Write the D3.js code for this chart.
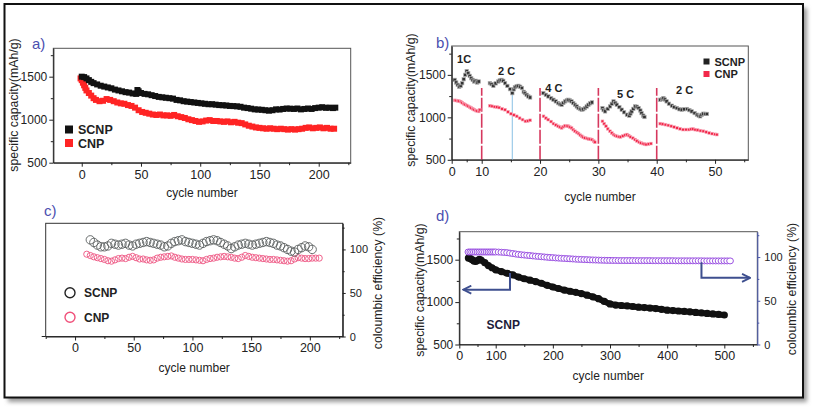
<!DOCTYPE html>
<html><head><meta charset="utf-8">
<script src="https://cdn.jsdelivr.net/npm/d3@7"></script>
<style>
body{margin:0;background:#fff}
svg{display:block}
text{font-family:"Liberation Sans",Arial,sans-serif;fill:#222}
.narrow text{font-family:"Liberation Sans Narrow","Liberation Sans",Arial,sans-serif}
</style>
</head><body>
<svg id="c" width="815" height="408"></svg>
<script>
// ---------------- DATA ----------------
// Panel a: specific capacity vs cycle (1C)
const aSCNP = [[0,1500],[2,1495],[4,1480],[6,1460],[8,1440],[10,1425],[13,1410],[16,1395],[19,1385],[22,1375],[25,1365],[28,1350],[31,1340],[34,1330],[37,1320],[40,1315],[43,1305],[46,1300],[47,1345],[48,1330],[50,1310],[53,1300],[56,1295],[59,1285],[62,1275],[65,1265],[68,1260],[71,1255],[74,1250],[77,1245],[80,1230],[83,1225],[86,1215],[89,1210],[92,1205],[95,1200],[98,1195],[101,1190],[104,1185],[107,1180],[110,1180],[113,1175],[116,1170],[119,1168],[122,1165],[125,1160],[128,1158],[131,1155],[134,1150],[137,1140],[140,1135],[143,1128],[146,1120],[149,1118],[152,1115],[155,1110],[158,1105],[161,1110],[164,1120],[167,1118],[170,1125],[173,1130],[176,1128],[179,1125],[182,1130],[185,1120],[188,1125],[191,1130],[194,1125],[197,1135],[200,1140],[203,1145],[206,1138],[209,1140],[212,1135],[214,1140]];
const aCNP = [[-1,1480],[0,1460],[1,1430],[2,1400],[3,1370],[4,1340],[6,1310],[8,1280],[10,1250],[12,1230],[15,1215],[18,1220],[21,1240],[24,1230],[27,1215],[30,1200],[33,1190],[36,1185],[39,1170],[42,1160],[45,1140],[48,1110],[51,1090],[54,1080],[57,1070],[60,1060],[63,1055],[66,1060],[69,1050],[72,1050],[75,1045],[78,1055],[81,1040],[84,1030],[87,1020],[90,1005],[93,995],[96,985],[99,975],[102,980],[105,990],[108,995],[111,985],[114,985],[117,980],[120,975],[123,980],[126,970],[129,975],[132,965],[135,960],[138,945],[141,930],[144,920],[147,910],[150,905],[153,900],[156,895],[159,900],[162,895],[165,890],[168,895],[171,890],[174,885],[177,890],[180,885],[183,890],[186,895],[189,905],[192,910],[195,900],[198,905],[201,910],[204,900],[207,905],[210,895],[213,895]];
const aXTicks = [0,50,100,150,200];
const aYTicks = [500,1000,1500];

// Panel b: rate capability
const bSCNP = [[1,1441],[1.5,1410],[2,1383],[2.5,1360],[3,1371],[3.5,1402],[4,1449],[4.5,1500],[5,1545],[5.5,1520],[6,1488],[6.5,1461],[7,1441],[7.5,1422],[8,1430],[8.5,1410],[9,1422],
[11.4,1402],[11.7,1390],[12,1371],[12.4,1400],[12.85,1422],[13.1,1435],[13.4,1441],[13.7,1430],[14,1402],[14.4,1370],[14.85,1332],[15.25,1285],[15.5,1330],[15.7,1355],[16,1365],[16.3,1371],[16.6,1360],[16.9,1345],[17.2,1300],[17.4,1285],[17.7,1265],[18,1246],[18.3,1234],
[20.57,1285],[21,1265],[21.43,1246],[21.9,1225],[22.3,1207],[22.7,1188],[23.1,1168],[23.4,1155],[23.7,1148],[24,1170],[24.3,1188],[24.6,1200],[24.85,1207],[25.1,1200],[25.4,1188],[25.7,1168],[26,1148],[26.3,1128],[26.6,1109],[26.9,1098],[27.15,1090],[27.4,1095],[27.7,1109],[28,1128],[28.3,1148],[28.6,1165],[28.9,1176],
[30.7,1109],[30.9,1085],[31.15,1070],[31.6,1100],[32,1129],[32.3,1160],[32.6,1188],[32.9,1170],[33.15,1148],[33.6,1120],[34,1090],[34.4,1060],[34.9,1031],[35.3,1020],[35.5,1045],[35.7,1070],[36,1100],[36.3,1129],[36.6,1125],[36.9,1109],[37.2,1080],[37.4,1050],[37.7,1020],[37.9,1004],
[40.6,1207],[40.9,1215],[41.15,1227],[41.4,1210],[41.7,1188],[42.1,1160],[42.6,1137],[43,1120],[43.45,1109],[43.9,1095],[44.3,1090],[44.7,1095],[45.2,1098],[45.6,1085],[46,1070],[46.5,1050],[46.9,1031],[47.2,1020],[47.45,1012],[47.7,1030],[48,1043],[48.3,1040],[48.6,1040]];
const bCNP = [[1,1200],[1.5,1198],[2,1195],[2.5,1190],[3,1185],[3.5,1172],[4,1160],[4.5,1150],[5,1140],[5.5,1130],[6,1120],[6.5,1110],[7,1100],[7.5,1090],[8,1080],[8.5,1075],[9,1070],[9.3,1090],
[11.4,1137],[11.8,1130],[12.2,1125],[12.6,1121],[13,1115],[13.5,1100],[14,1090],[14.5,1065],[15,1043],[15.5,1028],[16,1012],[16.5,990],[17,973],[17.5,953],[17.9,958],[18.3,965],
[20.6,1012],[21,990],[21.4,973],[21.9,950],[22.3,926],[22.7,910],[23.1,895],[23.4,885],[23.7,875],[24,890],[24.3,902],[24.6,898],[24.85,895],[25.1,885],[25.4,875],[25.7,855],[26,836],[26.3,822],[26.6,809],[26.9,790],[27.15,777],[27.4,765],[27.7,758],[28,752],[28.3,746],[28.6,742],[28.9,738],[29.2,720],[29.4,707],
[30.7,953],[31,925],[31.3,895],[31.6,865],[32,836],[32.3,815],[32.6,797],[32.9,785],[33.2,777],[33.5,772],[33.8,770],[34.2,780],[34.6,790],[34.9,797],[35.2,785],[35.5,770],[35.9,755],[36.3,738],[36.6,722],[37,707],[37.3,698],[37.6,691],[37.9,685],[38.2,680],[38.6,685],[39,691],
[40.6,926],[41,920],[41.5,914],[42,905],[42.5,895],[43,885],[43.5,875],[44,865],[44.5,856],[45,856],[45.5,856],[45.9,860],[46.2,863],[46.6,855],[47,850],[47.5,843],[48,836],[48.5,826],[49,816],[49.5,808],[50,800],[50.3,797]];
const bRateLabels = [["1C",1.8,1640],["2 C",12.8,1498],["4 C",20.9,1298],["5 C",33.2,1228],["2 C",43.3,1275]];
const bRateBounds = [10,20,30,40];
const bRateTop = 1345;
const bMarkCycle = 15.25, bMarkTop = 1330;
const bXTicks = [0,10,20,30,40,50];
const bYTicks = [500,1000,1500];

// Panel c: coulombic efficiency
const cSCNP = [[13,111],[16,108],[19,105],[22,103],[25,103],[28,104],[31,107],[34,106],[37,105],[40,106],[43,107],[46,105],[49,104],[52,106],[55,107],[58,108],[61,109],[64,108],[67,107],[70,106],[73,105],[76,103],[79,104],[82,107],[85,109],[88,110],[91,111],[94,109],[97,108],[100,107],[103,106],[106,105],[109,107],[112,109],[115,110],[118,111],[121,110],[124,108],[127,106],[130,104],[133,101],[136,103],[139,105],[142,106],[145,107],[148,106],[151,105],[154,106],[157,107],[160,108],[163,109],[166,108],[169,107],[172,105],[175,104],[178,102],[181,100],[184,98],[187,97],[190,100],[193,102],[196,104],[199,103],[202,100]];
const cCNP = [[10,94.5],[13,93],[16,91.5],[19,90.5],[22,89.5],[25,88.5],[28,87],[31,86.5],[34,88],[37,89.5],[40,90],[43,89.5],[46,91],[49,92],[52,90.5],[55,89],[58,89],[61,88],[64,87.5],[67,88],[70,90],[73,91],[76,91.5],[79,92],[82,92.5],[85,91],[88,90],[91,89],[94,88.5],[97,88.5],[100,88.5],[103,88],[106,87.5],[109,87],[112,88.5],[115,89.5],[118,90],[121,91],[124,91.5],[127,92],[130,91.5],[133,91],[136,90],[139,89.5],[142,91],[145,93],[148,92],[151,91],[154,90.5],[157,90],[160,89.5],[163,89],[166,88.5],[169,88.5],[172,88],[175,87.5],[178,87],[181,86.5],[184,87],[187,89],[190,90.5],[193,90],[196,89.5],[199,89.5],[202,90],[205,90],[208,90]];
const cXTicks = [0,50,100,150,200];
const cYTicks = [0,50,100];

// Panel d: long cycling of SCNP
const dCap = [[25,1520],[30,1515],[35,1500],[40,1485],[45,1480],[50,1490],[55,1505],[60,1495],[70,1465],[80,1430],[90,1405],[100,1380],[110,1360],[120,1340],[130,1320],[140,1295],[150,1275],[160,1258],[170,1242],[180,1222],[190,1198],[200,1178],[210,1160],[220,1142],[230,1128],[240,1115],[250,1100],[260,1082],[270,1062],[280,1040],[290,1008],[300,978],[310,965],[320,960],[330,955],[340,948],[350,940],[360,935],[370,930],[380,924],[390,915],[400,905],[410,900],[420,895],[430,890],[440,885],[450,878],[460,872],[470,866],[480,860],[490,855],[500,848]];
const dEff = [[25,105.8],[30,105.8],[35,105.8],[40,105.8],[45,105.8],[50,105.8],[55,105.8],[60,105.8],[65,105.8],[70,105.8],[75,105.8],[80,105.8],[85,105.8],[90,105.8],[95,105.8],[100,105.8],[105,105.7],[110,105.5],[115,105.3],[120,105],[125,104.5],[130,104],[135,103.5],[140,103],[145,102.6],[150,102.3],[155,102],[160,101.7],[165,101.3],[170,101],[175,100.7],[180,100.4],[185,100.1],[190,99.8],[195,99.5],[200,99.3],[205,99],[210,98.8],[215,98.6],[220,98.4],[225,98.2],[230,98],[235,97.8],[240,97.6],[245,97.4],[250,97.3],[255,97.1],[260,97],[265,96.8],[270,96.7],[275,96.6],[280,96.5],[285,96.4],[290,96.3],[295,96.2],[300,96.2],[305,96.1],[310,96.1],[315,96],[320,96],[325,96],[330,96],[335,96],[340,96],[345,95.9],[350,95.9],[355,95.9],[360,95.9],[365,95.9],[370,95.9],[375,95.8],[380,95.8],[385,95.8],[390,95.8],[395,95.8],[400,95.8],[405,95.8],[410,95.8],[415,95.7],[420,95.7],[425,95.7],[430,95.7],[435,95.7],[440,95.7],[445,95.7],[450,95.7],[455,95.7],[460,95.7],[465,95.6],[470,95.6],[475,95.6],[480,95.6],[485,95.6],[490,95.6],[495,95.6],[500,95.6],[505,95.6],[510,95.6]];
const dArrowLeft = [[125,1343],[125,1147],[11,1147]];
const dArrowRight = [[460,94.2],[460,76.2],[545,76.2]];
const dXTicks = [0,100,200,300,400,500];
const dYTicks = [500,1000,1500];
const dY2Ticks = [0,50,100];

// ---------------- DRAW ----------------
const svg = d3.select("#c");
const defs = svg.append("defs");
defs.append("filter").attr("id","blur").attr("x","-5%").attr("y","-5%").attr("width","110%").attr("height","110%")
  .append("feGaussianBlur").attr("stdDeviation",2);
defs.append("marker").attr("id","arr").attr("viewBox","0 -5 10 10")
  .attr("refX",9).attr("refY",0).attr("markerWidth",5).attr("markerHeight",5).attr("orient","auto")
  .append("path").attr("d","M1,-4L9,0L1,4").attr("fill","none").attr("stroke","#3e4f8f").attr("stroke-width",1.8);

// outer frame with shadow
svg.append("rect").attr("x",8).attr("y",8).attr("width",799).attr("height",394).attr("fill","#9a9a9a").attr("filter","url(#blur)");
svg.append("rect").attr("x",4.5).attr("y",4).attr("width",798.5).attr("height",393.5).attr("fill","#fff").attr("stroke","#111").attr("stroke-width",2);

const PANEL_LABEL = "#4b4fb0";

function styleAxis(g, color){
  g.select(".domain").attr("stroke",color||"#222").attr("stroke-width",1.1);
  g.selectAll(".tick line").attr("stroke",color||"#222");
  g.selectAll(".tick text").attr("fill","#1a1a1a");
}
function xAxis(p, x, majors, minors){
  const g = svg.append("g").attr("transform",`translate(0,${p.b})`)
    .call(d3.axisBottom(x).tickValues(majors).tickFormat(d3.format("d")).tickSize(4).tickSizeOuter(0).tickPadding(3));
  g.selectAll(".tick text").attr("font-size",12.5);
  styleAxis(g);
  if(minors){
    const m = svg.append("g").attr("transform",`translate(0,${p.b})`)
      .call(d3.axisBottom(x).tickValues(minors).tickFormat("").tickSize(2.5).tickSizeOuter(0));
    m.select(".domain").remove(); m.selectAll("line").attr("stroke","#222");
  }
  svg.append("text").attr("x",(p.l+p.r)/2).attr("y",p.xtitle).attr("text-anchor","middle").attr("font-size",12).attr("fill","#222").text("cycle number");
}
function yAxisLeft(p, y, majors, minors, color){
  const g = svg.append("g").attr("class","narrow").attr("transform",`translate(${p.l},0)`)
    .call(d3.axisLeft(y).tickValues(majors).tickFormat(d3.format("d")).tickSize(4).tickSizeOuter(0).tickPadding(2));
  g.selectAll(".tick text").attr("font-size",12);
  styleAxis(g,color);
  if(minors){
    const m = svg.append("g").attr("transform",`translate(${p.l},0)`)
      .call(d3.axisLeft(y).tickValues(minors).tickFormat("").tickSize(2.5).tickSizeOuter(0));
    m.select(".domain").remove(); m.selectAll("line").attr("stroke",color||"#222");
  }
}
function yAxisRight(p, y, majors, minors, color){
  const g = svg.append("g").attr("class","narrow").attr("transform",`translate(${p.r},0)`)
    .call(d3.axisRight(y).tickValues(majors).tickFormat(d3.format("d")).tickSize(3).tickSizeOuter(0).tickPadding(4));
  g.selectAll(".tick text").attr("font-size",11);
  styleAxis(g,color);
  if(minors){
    const m = svg.append("g").attr("transform",`translate(${p.r},0)`)
      .call(d3.axisRight(y).tickValues(minors).tickFormat("").tickSize(2).tickSizeOuter(0));
    m.select(".domain").remove(); m.selectAll("line").attr("stroke",color||"#222");
  }
}
function box(p, color){
  svg.append("rect").attr("x",p.l).attr("y",p.t).attr("width",p.r-p.l).attr("height",p.b-p.t)
    .attr("fill","none").attr("stroke",color||"#555").attr("stroke-width",1);
}
function vTitle(x, yc, txt){
  svg.append("text").attr("transform",`translate(${x},${yc}) rotate(-90)`).attr("text-anchor","middle")
    .attr("dominant-baseline","middle").attr("font-size",12.3).attr("fill","#222").text(txt);
}
function panelLabel(x,y,t){
  svg.append("text").attr("x",x).attr("y",y).attr("font-size",15).style("fill",PANEL_LABEL).text(t);
}

// ---------- Panel a ----------
{
  const p = {l:53.3, r:350.7, t:48.3, b:162.7, xtitle:197};
  const x = d3.scaleLinear().domain([-24,227]).range([p.l,p.r]);
  const y = d3.scaleLinear().domain([500,1830]).range([p.b,p.t]);
  box(p,"#555");
  const sq = 6;
  svg.append("g").selectAll("rect").data(aCNP).join("rect")
    .attr("x",d=>x(d[0])-sq/2).attr("y",d=>y(d[1])-sq/2).attr("width",sq).attr("height",sq).attr("fill","#ff2424");
  svg.append("g").selectAll("rect").data(aSCNP).join("rect")
    .attr("x",d=>x(d[0])-sq/2).attr("y",d=>y(d[1])-sq/2).attr("width",sq).attr("height",sq).attr("fill","#111");
  xAxis(p,x,aXTicks,[25,75,125,175,225]);
  yAxisLeft(p,y,aYTicks,[750,1250,1750]);
  vTitle(15,105,"specific capacity(mAh/g)");
  panelLabel(32,49,"a)");
  const lg = svg.append("g");
  [["SCNP","#111",129.5],["CNP","#ff2424",143]].forEach(([t,c,yy])=>{
    lg.append("rect").attr("x",65).attr("y",yy-4).attr("width",8).attr("height",8).attr("fill",c);
    lg.append("text").attr("x",78).attr("y",yy+4.5).attr("font-size",12.5).attr("font-weight","bold").attr("fill","#111").text(t);
  });
}

// ---------- Panel b ----------
{
  const p = {l:451.7, r:748.3, t:46, b:159.8, xtitle:201};
  const x = d3.scaleLinear().domain([0,10,55.7]).range([p.l,p.l+30,p.r]);
  const y = d3.scaleLinear().domain([500,1840]).range([p.b,p.t]);
  box(p,"#555");
  svg.append("g").selectAll("line").data(bRateBounds).join("line")
    .attr("x1",d=>x(d)).attr("x2",d=>x(d)).attr("y1",y(500)).attr("y2",y(bRateTop))
    .attr("stroke","#d6385e").attr("stroke-width",1.6).attr("stroke-dasharray","14,2");
  svg.append("line").attr("x1",x(bMarkCycle)).attr("x2",x(bMarkCycle)).attr("y1",y(500)).attr("y2",y(bMarkTop))
    .attr("stroke","#9ccbe9").attr("stroke-width",1.2);
  svg.append("g").selectAll("rect").data(bCNP).join("rect")
    .attr("x",d=>x(d[0])-1.4).attr("y",d=>y(d[1])-1.4).attr("width",2.8).attr("height",2.8)
    .attr("fill","#f2284a").attr("stroke","#f8b0c0").attr("stroke-width",0.6);
  svg.append("g").selectAll("rect").data(bSCNP).join("rect")
    .attr("x",d=>x(d[0])-1.7).attr("y",d=>y(d[1])-1.7).attr("width",3.4).attr("height",3.4)
    .attr("fill","#333").attr("stroke","#b0b0b0").attr("stroke-width",0.7);
  svg.append("g").selectAll("text").data(bRateLabels).join("text")
    .attr("x",d=>x(d[1])).attr("y",d=>y(d[2])).attr("font-size",11).attr("font-weight","bold").attr("fill","#111").text(d=>d[0]);
  xAxis(p,x,bXTicks,[5,15,25,35,45,55]);
  yAxisLeft(p,y,bYTicks,[750,1250,1750]);
  vTitle(412,100,"specific capacity(mAh/g)");
  panelLabel(436,48,"b)");
  const lg = svg.append("g");
  [["SCNP","#222",61.5],["CNP","#f2284a",74]].forEach(([t,c,yy])=>{
    lg.append("rect").attr("x",703.5).attr("y",yy-3).attr("width",6).attr("height",6).attr("fill",c);
    lg.append("text").attr("x",714.5).attr("y",yy+4).attr("font-size",11).attr("font-weight","bold").attr("fill","#111").text(t);
  });
}

// ---------- Panel c ----------
{
  const p = {l:45.7, r:342.7, t:223.3, b:336.5, xtitle:372};
  const x = d3.scaleLinear().domain([-25,228]).range([p.l,p.r]);
  const y = d3.scaleLinear().domain([0,130]).range([p.b,p.t]);
  box(p,"#333");
  svg.append("g").selectAll("circle").data(cCNP).join("circle")
    .attr("cx",d=>x(d[0])).attr("cy",d=>y(d[1])).attr("r",3.1)
    .attr("fill","none").attr("stroke","#f0628c").attr("stroke-width",1);
  svg.append("g").selectAll("circle").data(cSCNP).join("circle")
    .attr("cx",d=>x(d[0])).attr("cy",d=>y(d[1])).attr("r",4.2)
    .attr("fill","none").attr("stroke","#5a5f5f").attr("stroke-width",0.9);
  xAxis(p,x,cXTicks,[-25,25,75,125,175,225]);
  yAxisRight(p,y,cYTicks,[25,75,125],"#222");
  svg.append("line").attr("x1",p.l-4).attr("x2",p.l).attr("y1",p.b).attr("y2",p.b).attr("stroke","#222");
  vTitle(379,283,"coloumbic efficiency (%)");
  panelLabel(44,216,"c)");
  const lg = svg.append("g");
  [["SCNP","#222",292.7],["CNP","#f0507a",317.3]].forEach(([t,c,yy])=>{
    lg.append("circle").attr("cx",70).attr("cy",yy).attr("r",5).attr("fill","none").attr("stroke",c).attr("stroke-width",1.4);
    lg.append("text").attr("x",84).attr("y",yy+4.5).attr("font-size",12).attr("font-weight","bold").attr("fill","#111").text(t);
  });
}

// ---------- Panel d ----------
{
  const p = {l:459.3, r:757.3, t:231.7, b:344.5, xtitle:380};
  const x = d3.scaleLinear().domain([0,100,557.7]).range([p.l,p.l+36.4,p.r]);
  const y = d3.scaleLinear().domain([500,1830]).range([p.b,p.t]);
  const y2 = d3.scaleLinear().domain([0,129]).range([p.b,p.t]);
  box(p,"#555");
  const line = d3.line().x(d=>x(d[0])).y(d=>y(d[1]));
  svg.append("path").datum(dCap).attr("d",line).attr("fill","none").attr("stroke","#111").attr("stroke-width",6).attr("stroke-linejoin","round");
  svg.append("g").selectAll("circle").data(dCap).join("circle")
    .attr("cx",d=>x(d[0])).attr("cy",d=>y(d[1])).attr("r",3.6).attr("fill","#111");
  svg.append("g").selectAll("ellipse").data(dEff).join("ellipse")
    .attr("cx",d=>x(d[0])).attr("cy",d=>y2(d[1])).attr("rx",3.4).attr("ry",3)
    .attr("fill","#fff").attr("stroke","#9b52e2").attr("stroke-width",1);
  const al = d3.line().x(d=>x(d[0]));
  svg.append("path").attr("d",al.y(d=>y(d[1]))(dArrowLeft)).attr("fill","none").attr("stroke","#3e4f8f").attr("stroke-width",2).attr("marker-end","url(#arr)");
  svg.append("path").attr("d",al.y(d=>y2(d[1]))(dArrowRight)).attr("fill","none").attr("stroke","#3e4f8f").attr("stroke-width",2).attr("marker-end","url(#arr)");
  xAxis(p,x,dXTicks,[50,150,250,350,450,550]);
  yAxisLeft(p,y,dYTicks,[750,1250,1750]);
  yAxisRight(p,y2,dY2Ticks,[25,75,125],"#4a58a8");
  vTitle(421,290,"specific capacity(mAh/g)");
  vTitle(793,289,"coloumbic efficiency (%)");
  panelLabel(436,221,"d)");
  svg.append("text").attr("x",x(75)).attr("y",y(680)).attr("font-size",12).attr("font-weight","bold").style("fill","#1c1c3a").text("SCNP");
}
</script>
</body></html>
